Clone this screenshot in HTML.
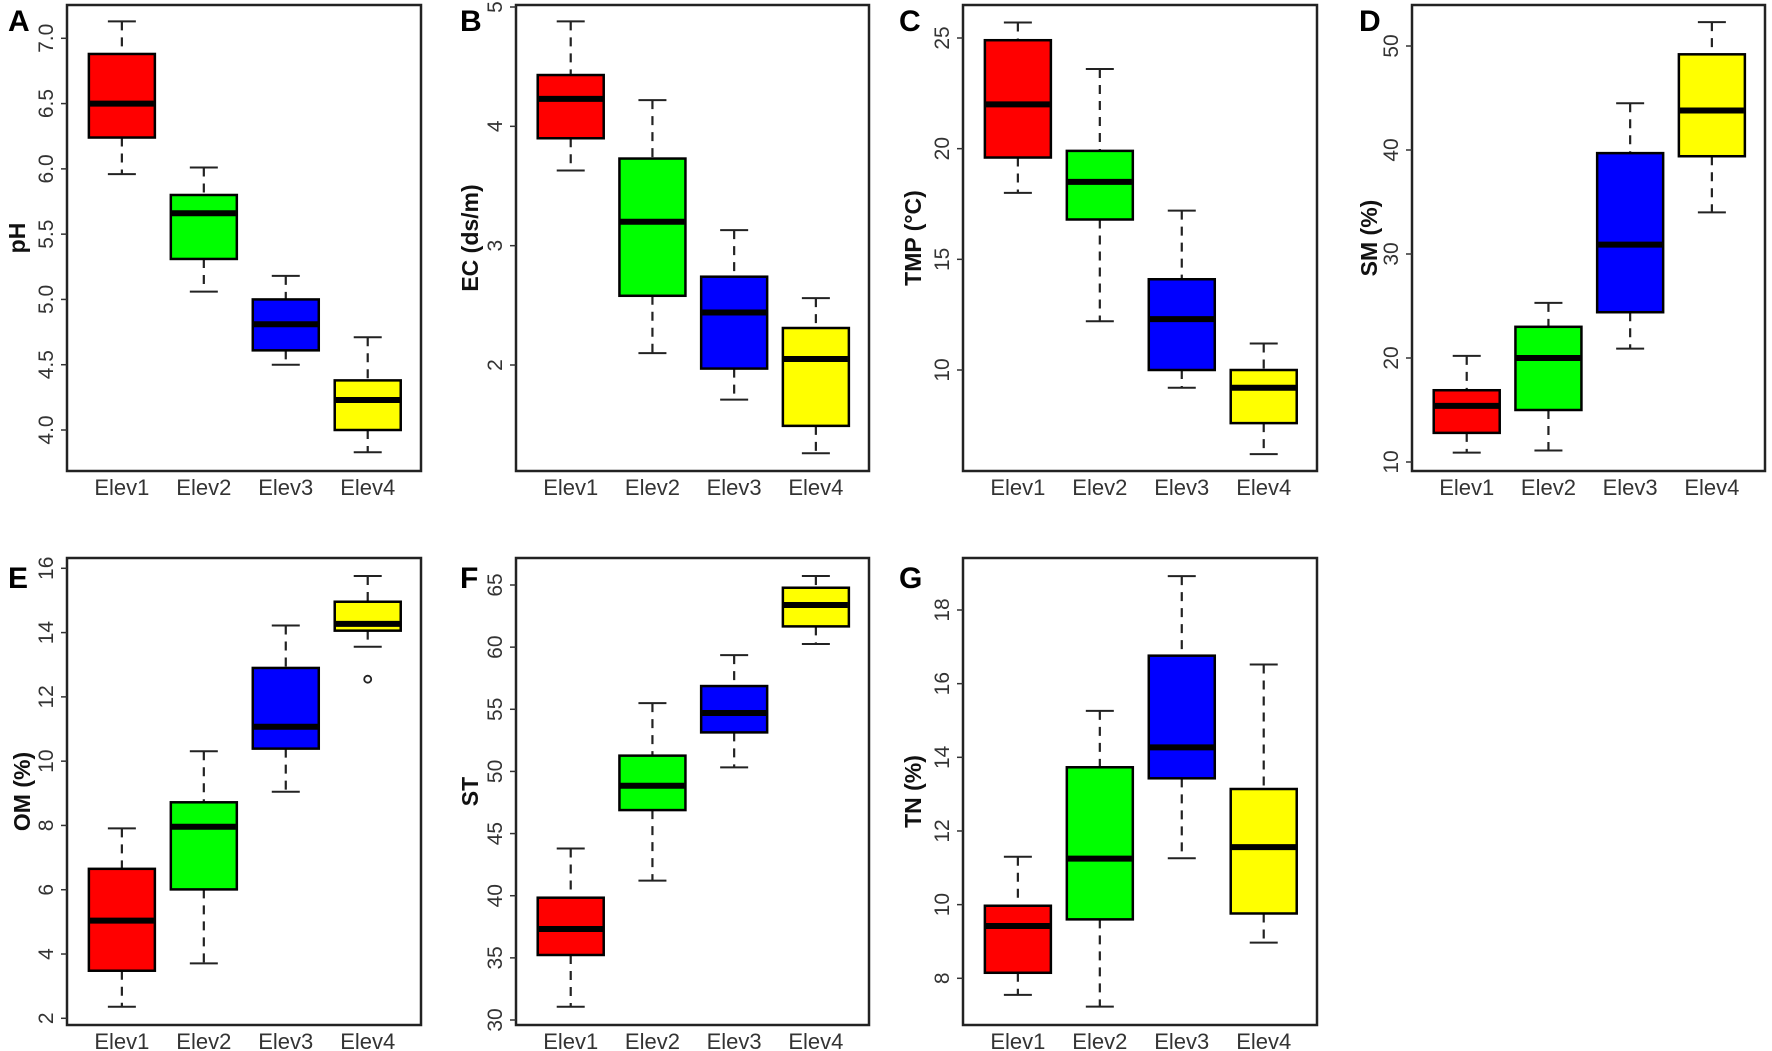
<!DOCTYPE html>
<html><head><meta charset="utf-8">
<style>
html,body{margin:0;padding:0;background:#fff;}
svg{display:block;font-family:"Liberation Sans",Arial,sans-serif;}
</style></head>
<body>
<svg id="fig" width="1772" height="1051" viewBox="0 0 1772 1051" xmlns="http://www.w3.org/2000/svg"></svg>
<script>
const categories = ["Elev1","Elev2","Elev3","Elev4"];
const colors = ["#ff0000","#00ff00","#0000ff","#ffff00"];

const phLow = [5.96,5.06,4.50,3.83], phQ1 = [6.24,5.31,4.61,4.00], phMed = [6.50,5.66,4.81,4.23], phQ3 = [6.88,5.80,5.00,4.38], phHigh = [7.13,6.01,5.18,4.71];
const phTicks = [4.0,4.5,5.0,5.5,6.0,6.5,7.0];
const phTickLabels = ["4.0","4.5","5.0","5.5","6.0","6.5","7.0"];

const ecLow = [3.63,2.10,1.71,1.26], ecQ1 = [3.90,2.58,1.97,1.49], ecMed = [4.23,3.20,2.44,2.05], ecQ3 = [4.43,3.73,2.74,2.31], ecHigh = [4.88,4.22,3.13,2.56];
const ecTicks = [2,3,4,5];
const ecTickLabels = ["2","3","4","5"];

const tmpLow = [18.0,12.2,9.2,6.2], tmpQ1 = [19.6,16.8,10.0,7.6], tmpMed = [22.0,18.5,12.3,9.2], tmpQ3 = [24.9,19.9,14.1,10.0], tmpHigh = [25.7,23.6,17.2,11.2];
const tmpTicks = [10,15,20,25];
const tmpTickLabels = ["10","15","20","25"];

const smLow = [10.9,11.1,20.9,34.0], smQ1 = [12.8,15.0,24.4,39.4], smMed = [15.4,20.0,30.9,43.8], smQ3 = [16.9,23.0,39.7,49.2], smHigh = [20.2,25.3,44.5,52.3];
const smTicks = [10,20,30,40,50];
const smTickLabels = ["10","20","30","40","50"];

const omLow = [2.36,3.71,9.05,13.56], omQ1 = [3.48,6.01,10.39,14.06], omMed = [5.04,7.96,11.07,14.27], omQ3 = [6.65,8.72,12.90,14.96], omHigh = [7.91,10.31,14.22,15.76];
const omOutliers = [null,null,null,12.55];
const omTicks = [2,4,6,8,10,12,14,16];
const omTickLabels = ["2","4","6","8","10","12","14","16"];

const stLow = [31.07,41.21,50.33,60.25], stQ1 = [35.23,46.89,53.14,61.67], stMed = [37.32,48.85,54.70,63.39], stQ3 = [39.84,51.27,56.87,64.78], stHigh = [43.8,55.50,59.36,65.72];
const stTicks = [30,35,40,45,50,55,60,65];
const stTickLabels = ["30","35","40","45","50","55","60","65"];

const tnLow = [7.55,7.23,11.26,8.97], tnQ1 = [8.15,9.60,13.43,9.76], tnMed = [9.42,11.25,14.27,11.56], tnQ3 = [9.97,13.73,16.76,13.14], tnHigh = [11.30,15.26,18.92,16.52];
const tnTicks = [8,10,12,14,16,18];
const tnTickLabels = ["8","10","12","14","16","18"];

const NS = "http://www.w3.org/2000/svg";
const svg = document.getElementById("fig");
function mk(tag, attrs, parent){
  const e = document.createElementNS(NS, tag);
  for (const k in attrs) e.setAttribute(k, attrs[k]);
  (parent||svg).appendChild(e);
  return e;
}

function panel(cfg){
  const g = mk("g", {});
  
  
  const L = cfg.left, R = cfg.right, T = cfg.top, B = cfg.bottom;
  const yScale = v => cfg.t0y + (v - cfg.t0) * (cfg.t1y - cfg.t0y) / (cfg.t1 - cfg.t0);
  const bandW = (R - L) / 4.32;
  const xScale = i => L + (R - L) * (0.155 + i * 0.2315);
  // frame
  const frame = mk("rect", {x:L, y:T, width:R-L, height:B-T, fill:"none", stroke:"#222", "stroke-width":2.5}, g);
  
  
  // letter
  const let_ = mk("text", {x:cfg.letterX, y:T + 26 + (cfg.letterDy||0), "font-size":30, "font-weight":"bold", fill:"#000"}, g);
  let_.textContent = cfg.letter;
  
  
  // y title
  const ty = (T + B) / 2;
  const yt = mk("text", {x:0, y:0, "font-size":23, "font-weight":"bold", fill:"#111", "text-anchor":"middle", transform:`translate(${cfg.titleX},${ty}) rotate(-90)`}, g);
  yt.textContent = cfg.title;
  
  
  // ticks
  cfg.ticks.forEach((t, k) => {
    const y = yScale(t);
    const tl = mk("line", {x1:L-6, x2:L, y1:y, y2:y, stroke:"#333", "stroke-width":1.5}, g);
    
    
    const tx = mk("text", {x:0, y:0, "font-size":21, fill:"#333", "text-anchor":"middle", transform:`translate(${L-14},${y}) rotate(-90)`}, g);
    tx.textContent = cfg.tickLabels[k];
    
    
  });
  // boxes
  const hw = 33, cw = 14;
  categories.forEach((c, i) => {
    const cx = xScale(i);
    const bg = mk("g", {}, g);
    
    
    const yl = yScale(cfg.low[i]), y1 = yScale(cfg.q1[i]), ym = yScale(cfg.med[i]), y3 = yScale(cfg.q3[i]), yh = yScale(cfg.high[i]);
    mk("line", {x1:cx, x2:cx, y1:yh, y2:y3, stroke:"#222", "stroke-width":2.2, "stroke-dasharray":"9,7"}, bg);
    mk("line", {x1:cx, x2:cx, y1:y1, y2:yl, stroke:"#222", "stroke-width":2.2, "stroke-dasharray":"9,7"}, bg);
    mk("line", {x1:cx-cw, x2:cx+cw, y1:yh, y2:yh, stroke:"#222", "stroke-width":2}, bg);
    mk("line", {x1:cx-cw, x2:cx+cw, y1:yl, y2:yl, stroke:"#222", "stroke-width":2}, bg);
    mk("rect", {x:cx-hw, y:y3, width:2*hw, height:y1-y3, fill:colors[i], stroke:"#000", "stroke-width":2.5}, bg);
    mk("line", {x1:cx-hw+1, x2:cx+hw-1, y1:ym, y2:ym, stroke:"#000", "stroke-width":6}, bg);
    if (cfg.outliers && cfg.outliers[i] != null) {
      const o = mk("circle", {cx:cx, cy:yScale(cfg.outliers[i]), r:3.5, fill:"none", stroke:"#222", "stroke-width":1.8}, bg);
      
      
    }
    const xl = mk("text", {x:cx, y:B+24, "font-size":22, fill:"#333", "text-anchor":"middle"}, g);
    xl.textContent = c;
    
    
  });
}

const topT = 5, topB = 471, botT = 558, botB = 1025;
panel({letter:"A", letterX:8, left:67, right:421, top:topT, bottom:topB, titleX:25, title:"pH",
  t0:4.0, t0y:430, t1:7.0, t1y:38.3, ticks:phTicks, tickLabels:phTickLabels,
  low:phLow, q1:phQ1, med:phMed, q3:phQ3, high:phHigh});
panel({letter:"B", letterX:460, left:516, right:869, top:topT, bottom:topB, titleX:478, title:"EC (ds/m)",
  t0:2, t0y:365, t1:5, t1y:7, ticks:ecTicks, tickLabels:ecTickLabels,
  low:ecLow, q1:ecQ1, med:ecMed, q3:ecQ3, high:ecHigh});
panel({letter:"C", letterX:899, left:963, right:1317, top:topT, bottom:topB, titleX:921, title:"TMP (°C)",
  t0:10, t0y:370, t1:25, t1y:38, ticks:tmpTicks, tickLabels:tmpTickLabels,
  low:tmpLow, q1:tmpQ1, med:tmpMed, q3:tmpQ3, high:tmpHigh});
panel({letter:"D", letterX:1359, left:1412, right:1765, top:topT, bottom:topB, titleX:1377, title:"SM (%)",
  t0:10, t0y:462, t1:50, t1y:46, ticks:smTicks, tickLabels:smTickLabels,
  low:smLow, q1:smQ1, med:smMed, q3:smQ3, high:smHigh});
panel({letter:"E", letterX:8, letterDy:4, left:67, right:421, top:botT, bottom:botB, titleX:30, title:"OM (%)",
  t0:2, t0y:1018.3, t1:16, t1y:568.3, ticks:omTicks, tickLabels:omTickLabels,
  low:omLow, q1:omQ1, med:omMed, q3:omQ3, high:omHigh, outliers:omOutliers});
panel({letter:"F", letterX:460, letterDy:4, left:516, right:869, top:botT, bottom:botB, titleX:478, title:"ST",
  t0:30, t0y:1020, t1:65, t1y:585, ticks:stTicks, tickLabels:stTickLabels,
  low:stLow, q1:stQ1, med:stMed, q3:stQ3, high:stHigh});
panel({letter:"G", letterX:899, letterDy:4, left:963, right:1317, top:botT, bottom:botB, titleX:921, title:"TN (%)",
  t0:8, t0y:978.3, t1:18, t1y:610, ticks:tnTicks, tickLabels:tnTickLabels,
  low:tnLow, q1:tnQ1, med:tnMed, q3:tnQ3, high:tnHigh});
</script>
</body></html>
